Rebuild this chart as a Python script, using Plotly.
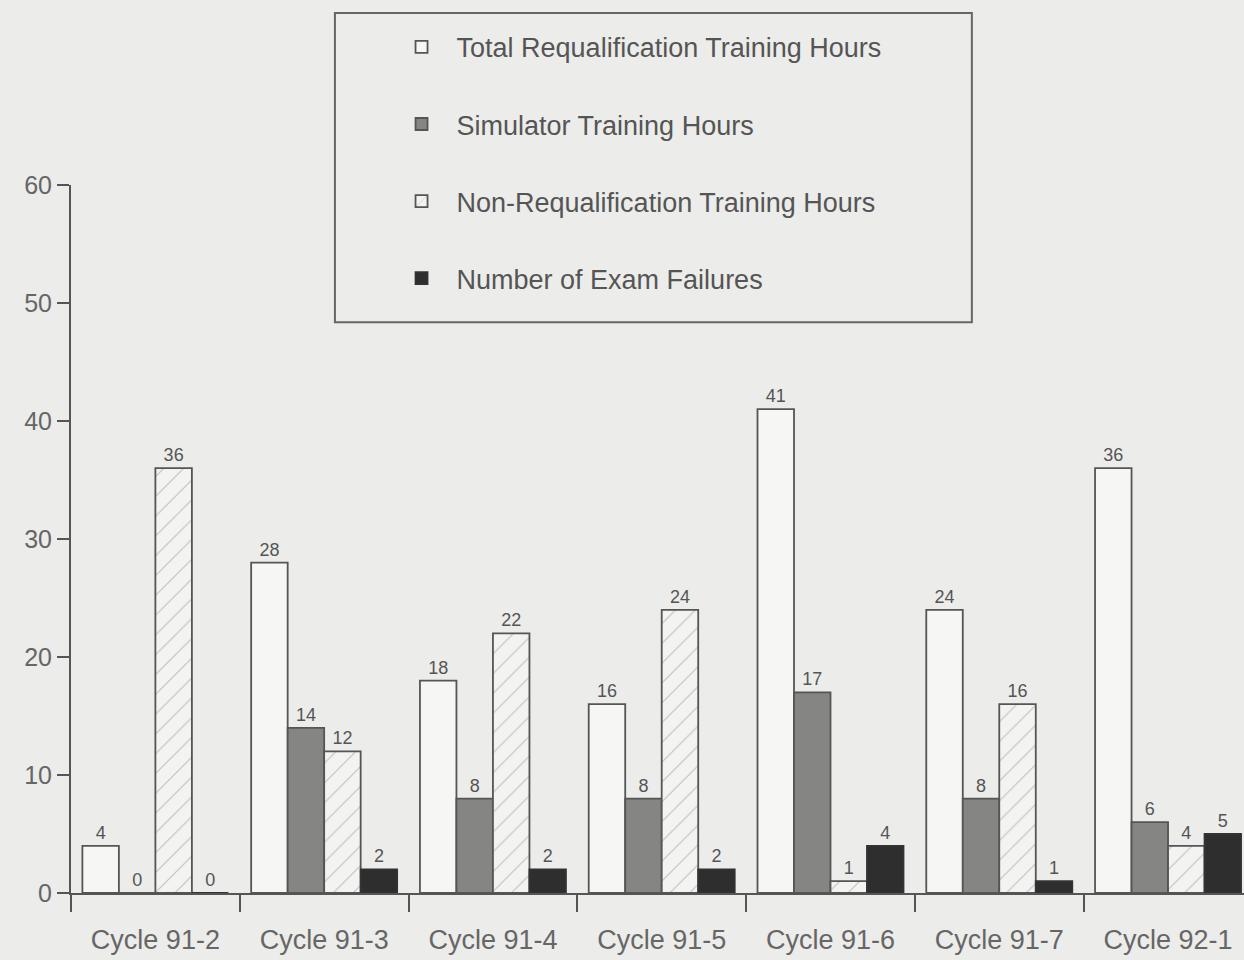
# Requalification training hours by cycle - grouped bar chart
import plotly.graph_objects as go

cycles = ["Cycle 91-2", "Cycle 91-3", "Cycle 91-4", "Cycle 91-5",
          "Cycle 91-6", "Cycle 91-7", "Cycle 92-1"]
total_hours = [4, 28, 18, 16, 41, 24, 36]
simulator_hours = [0, 14, 8, 8, 17, 8, 6]
nonrequal_hours = [36, 12, 22, 24, 1, 16, 4]
exam_failures = [0, 2, 2, 2, 4, 1, 5]

bgcol = "#ececea"
inkcol = "#555555"
fontname = "Liberation Sans, Arial, sans-serif"

plotfig = go.Figure()

# one trace per series, each in its own legend group so the rows get spaced out
plotfig.add_trace(go.Bar(
    x=cycles, y=total_hours, name="Total Requalification Training Hours",
    legendgroup="a", marker=dict(color="#f6f6f4", line=dict(color=inkcol, width=1.8)),
    text=total_hours, textposition="outside"))
plotfig.add_trace(go.Bar(
    x=cycles, y=simulator_hours, name="Simulator Training Hours",
    legendgroup="b", marker=dict(color="#858583", line=dict(color=inkcol, width=1.8)),
    text=simulator_hours, textposition="outside"))
plotfig.add_trace(go.Bar(
    x=cycles, y=nonrequal_hours, name="Non-Requalification Training Hours",
    legendgroup="c",
    marker=dict(color="#f3f3f1", line=dict(color=inkcol, width=1.8),
                pattern=dict(shape="/", fgcolor="#8a8a88", bgcolor="#f3f3f1",
                             size=14, solidity=0.08)),
    text=nonrequal_hours, textposition="outside"))
plotfig.add_trace(go.Bar(
    x=cycles, y=exam_failures, name="Number of Exam Failures",
    legendgroup="d", marker=dict(color="#2e2e2e", line=dict(color="#333333", width=1.8)),
    text=exam_failures, textposition="outside"))

plotfig.update_traces(textfont=dict(size=18, color=inkcol, family=fontname),
                      cliponaxis=False)

plotfig.update_xaxes(
    range=[-0.5, 6.45],
    showline=True, linecolor=inkcol, linewidth=2,
    ticks="outside", tickson="boundaries", ticklen=17, tickwidth=1.5, tickcolor=inkcol,
    tickfont=dict(size=27, color="#666666", family=fontname),
    ticklabelstandoff=22,
    showgrid=False, zeroline=False,
)
plotfig.update_yaxes(
    range=[0, 60], tickvals=[0, 10, 20, 30, 40, 50, 60],
    showline=True, linecolor=inkcol, linewidth=2,
    ticks="outside", ticklen=12, tickwidth=1.5, tickcolor=inkcol,
    tickfont=dict(size=25, color="#666666", family=fontname),
    showgrid=False, zeroline=False,
)

# legend frame drawn as a rectangle so it can be wider than the entries
plotfig.add_shape(type="rect", xref="paper", yref="paper",
                  x0=0.225, x1=0.768, y0=0.806, y1=1.243,
                  line=dict(color="#666666", width=2), fillcolor="rgba(0,0,0,0)",
                  layer="below")

plotfig.update_layout(
    width=1244, height=960,
    barmode="group", bargap=0.135, bargroupgap=0,
    paper_bgcolor=bgcol, plot_bgcolor=bgcol,
    margin=dict(l=71, r=0, t=185, b=67),
    showlegend=True,
    legend=dict(
        x=0.269, y=1.229, xanchor="left", yanchor="top",
        traceorder="grouped", tracegroupgap=39,
        bgcolor="rgba(0,0,0,0)", borderwidth=0,
        font=dict(size=27, color="#555555", family=fontname),
        itemwidth=60,
    ),
    font=dict(family=fontname, color=inkcol),
)

plotfig.write_html("out.html", config={"displayModeBar": False},
                   post_script="document.body.style.margin='0';")
